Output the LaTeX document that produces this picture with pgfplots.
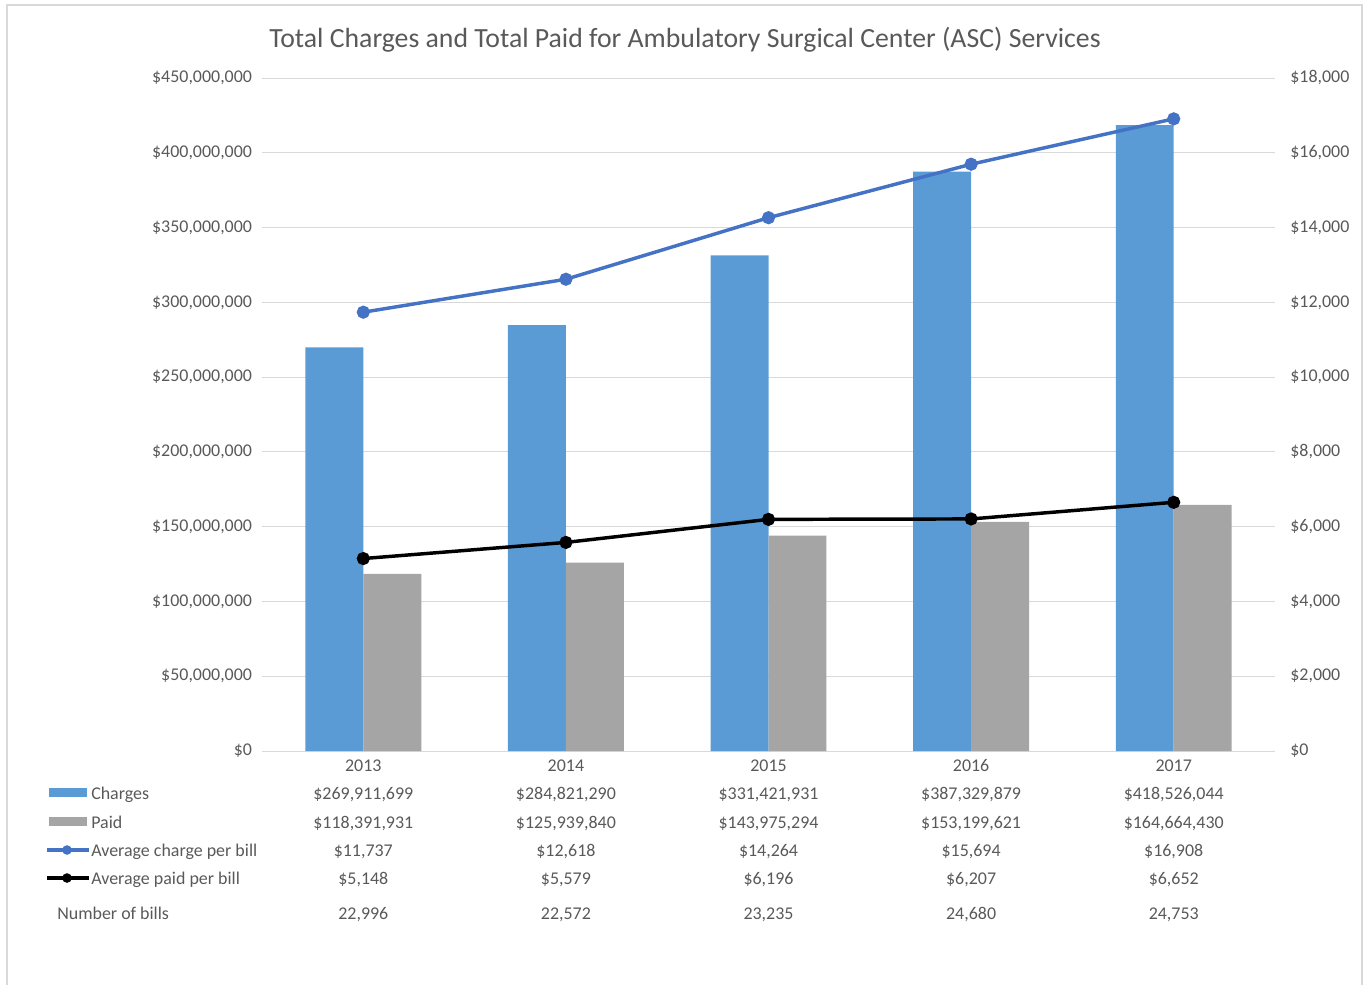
\documentclass[border=0pt]{standalone}
\usepackage{pgfplots}
\pgfplotsset{compat=1.18}
\usepackage{fontspec}
\setmainfont{Carlito}
\definecolor{txt}{HTML}{595959}
\definecolor{cblue}{HTML}{5B9BD5}
\definecolor{cgray}{HTML}{A5A5A5}
\definecolor{lblue}{HTML}{4472C4}
\definecolor{gridc}{HTML}{D9D9D9}
\begin{document}
\begin{tikzpicture}
\begin{scope}[x=0.75bp,y=-0.75bp]
\path (0,0) rectangle (1370,985);
\draw[gridc, line width=1.5bp] (7,985) -- (7,5) -- (1362,5) -- (1362,985);
\end{scope}
\begin{axis}[
  at={(196.5bp,-563.25bp)}, anchor=south west,
  scale only axis, width=759.75bp, height=504.75bp,
  xmin=-0.5, xmax=4.5, ymin=0, ymax=450,
  axis y line*=left, axis x line*=bottom,
  y axis line style={draw=none},
  x axis line style={draw=gridc, line width=0.75bp},
  major tick length=0pt,
  ymajorgrids, grid style={gridc, line width=0.75bp},
  xtick={0,1,2,3,4},
  xticklabels={2013,2014,2015,2016,2017},
  ytick={0,50,100,150,200,250,300,350,400,450},
  yticklabels={{\$0},{\$50,000,000},{\$100,000,000},{\$150,000,000},{\$200,000,000},{\$250,000,000},{\$300,000,000},{\$350,000,000},{\$400,000,000},{\$450,000,000}},
  ticklabel style={font=\fontsize{13.5}{16}\selectfont, text=txt},
  yticklabel style={xshift=-4bp},
  xticklabel style={yshift=-5.5bp, text height=1.4ex, text depth=0.2ex},
]
\addplot[ybar, bar width=0.286, bar shift=-0.143, fill=cblue, draw=none]
  coordinates {(0,269.911699) (1,284.821290) (2,331.421931) (3,387.329879) (4,418.526044)};
\addplot[ybar, bar width=0.286, bar shift=0.143, fill=cgray, draw=none]
  coordinates {(0,118.391931) (1,125.939840) (2,143.975294) (3,153.199621) (4,164.664430)};
\end{axis}
\begin{axis}[
  at={(196.5bp,-563.25bp)}, anchor=south west,
  scale only axis, width=759.75bp, height=504.75bp,
  xmin=-0.5, xmax=4.5, ymin=0, ymax=18000,
  axis y line*=right, axis x line=none,
  y axis line style={draw=none},
  major tick length=0pt,
  scaled y ticks=false,
  ytick={0,2000,4000,6000,8000,10000,12000,14000,16000,18000},
  yticklabels={{\$0},{\$2,000},{\$4,000},{\$6,000},{\$8,000},{\$10,000},{\$12,000},{\$14,000},{\$16,000},{\$18,000}},
  ticklabel style={font=\fontsize{13.5}{16}\selectfont, text=txt},
  yticklabel style={xshift=8bp},
  clip=false,
]
\addplot[lblue, line width=2.6bp, mark=*, mark size=3.6bp, mark options={fill=lblue, draw=lblue}]
  coordinates {(0,11737) (1,12618) (2,14264) (3,15694) (4,16908)};
\addplot[black, line width=2.6bp, mark=*, mark size=3.6bp, mark options={fill=black}]
  coordinates {(0,5148) (1,5579) (2,6196) (3,6207) (4,6652)};
\end{axis}
\begin{scope}[x=0.75bp,y=-0.75bp, every node/.style={font=\fontsize{13.5}{16}\selectfont, text=txt, inner sep=0pt}]
\node[font=\fontsize{20.9}{24}\selectfont, text=txt] at (685,40) {Total Charges and Total Paid for Ambulatory Surgical Center (ASC) Services};
% legend keys
\fill[cblue] (49,788) rectangle (87,797);
\fill[cgray] (49,817) rectangle (87,826);
\draw[lblue, line width=2.6bp] (47,850) -- (89,850);
\fill[lblue] (67,850) circle (3.6bp);
\draw[black, line width=2.6bp] (47,878) -- (89,878);
\fill[black] (67,878) circle (3.6bp);
\node[anchor=mid west] at (91,796) {Charges};
\node[anchor=mid west] at (91,825) {Paid};
\node[anchor=mid west] at (91,853) {Average charge per bill};
\node[anchor=mid west] at (91,881) {Average paid per bill};
\node[anchor=mid west] at (57,916) {Number of bills};
% table values
\node[anchor=mid] at (363.3,796) {\$269,911,699};
\node[anchor=mid] at (565.9,796) {\$284,821,290};
\node[anchor=mid] at (768.5,796) {\$331,421,931};
\node[anchor=mid] at (971.1,796) {\$387,329,879};
\node[anchor=mid] at (1173.7,796) {\$418,526,044};
\node[anchor=mid] at (363.3,825) {\$118,391,931};
\node[anchor=mid] at (565.9,825) {\$125,939,840};
\node[anchor=mid] at (768.5,825) {\$143,975,294};
\node[anchor=mid] at (971.1,825) {\$153,199,621};
\node[anchor=mid] at (1173.7,825) {\$164,664,430};
\node[anchor=mid] at (363.3,853) {\$11,737};
\node[anchor=mid] at (565.9,853) {\$12,618};
\node[anchor=mid] at (768.5,853) {\$14,264};
\node[anchor=mid] at (971.1,853) {\$15,694};
\node[anchor=mid] at (1173.7,853) {\$16,908};
\node[anchor=mid] at (363.3,881) {\$5,148};
\node[anchor=mid] at (565.9,881) {\$5,579};
\node[anchor=mid] at (768.5,881) {\$6,196};
\node[anchor=mid] at (971.1,881) {\$6,207};
\node[anchor=mid] at (1173.7,881) {\$6,652};
\node[anchor=mid] at (363.3,916) {22,996};
\node[anchor=mid] at (565.9,916) {22,572};
\node[anchor=mid] at (768.5,916) {23,235};
\node[anchor=mid] at (971.1,916) {24,680};
\node[anchor=mid] at (1173.7,916) {24,753};
\end{scope}
\end{tikzpicture}
\end{document}
